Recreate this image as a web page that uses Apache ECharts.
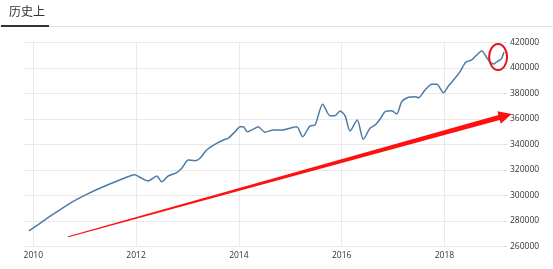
<!DOCTYPE html>
<html><head><meta charset="utf-8">
<script src="https://cdn.jsdelivr.net/npm/echarts@6/dist/echarts.min.js"></script>
<style>html,body{margin:0;padding:0;background:#fff;}#c{width:553px;height:269px;}</style>
</head><body><div id="c"></div>
<script>
// ---- data ----
const tabTitle = '历史上';
const dates = [
 '2009-12-01','2010-02-18','2010-05-22','2010-09-18','2011-01-15','2011-05-12','2011-09-08','2011-11-18','2011-12-24',
 '2012-01-28','2012-03-27','2012-05-27','2012-07-01','2012-08-17','2012-10-16','2012-11-21',
 '2013-01-07','2013-02-24','2013-03-31','2013-05-17','2013-07-27','2013-09-25','2013-10-18','2013-12-05',
 '2014-01-09','2014-02-02','2014-03-01','2014-04-25','2014-05-18','2014-07-05','2014-09-02','2014-11-01',
 '2015-02-16','2015-03-30','2015-05-21','2015-06-26','2015-08-19','2015-10-10','2015-11-14','2015-12-20',
 '2016-01-25','2016-03-01','2016-04-21','2016-06-03','2016-07-21','2016-08-26','2016-10-01','2016-11-06','2016-12-23',
 '2017-01-27','2017-03-04','2017-04-20','2017-06-07','2017-06-30','2017-08-16','2017-10-03','2017-11-08','2017-12-25',
 '2018-01-29','2018-03-17','2018-04-22','2018-06-01','2018-07-14','2018-08-11','2018-09-23','2018-11-09','2018-12-14',
 '2019-01-19','2019-02-07','2019-02-28'
];
const values = [
 272200,278200,285300,293900,300900,306900,312200,315300,316300,
 314300,311400,315300,310800,315300,317900,321300,
 327800,327300,329200,335700,340900,344100,344900,350000,
 354000,354000,350000,352700,354000,349600,351400,351400,
 354000,346100,354500,355300,371500,362600,362600,366300,
 362600,350600,359200,344100,352700,355300,360000,365700,366500,
 363900,373600,377000,377500,376700,382700,387200,387200,380600,
 385900,391900,397100,404500,406300,409400,413300,406300,403100,
 405700,406700,412600
];
const xTickYears = [2010, 2012, 2014, 2016, 2018];
const xMin = '2009-10-27', xMax = '2019-02-28';
const yMin = 260000, yMax = 420000, yStep = 20000;
// annotation anchors (data space)
const arrowTail = ['2010-09-06', 267700];
const arrowTip = ['2019-04-23', 363900];
const circleCenter = ['2019-01-17', 408600];

// ---- helpers: date string -> decimal year ----
const t = s => {
  const [y, m, d] = s.split('-').map(Number);
  const start = Date.UTC(y, 0, 1), end = Date.UTC(y + 1, 0, 1);
  return y + (Date.UTC(y, m - 1, d) - start) / (end - start);
};
const FONT = 'Open Sans';
const GRID_COLOR = '#e9e9e9';

const chart = echarts.init(document.getElementById('c'), null, {renderer: 'canvas'});
chart.setOption({
  animation: false,
  grid: {left: 24, right: 49, top: 42.5, bottom: 22.5, containLabel: false},
  xAxis: {
    type: 'value', min: t(xMin), max: t(xMax),
    axisLine: {show: false},
    axisTick: {show: false, customValues: xTickYears},
    axisLabel: {customValues: xTickYears, formatter: v => String(Math.round(v)),
      color: '#333', fontSize: 8.5, fontFamily: FONT, margin: 5},
    splitLine: {show: true, lineStyle: {color: GRID_COLOR, width: 1}}
  },
  yAxis: {
    type: 'value', position: 'right', min: yMin, max: yMax, interval: yStep,
    axisLine: {show: false},
    axisTick: {show: true, length: 3, lineStyle: {color: '#d8d8d8'}},
    axisLabel: {formatter: v => String(v), color: '#333', fontSize: 8.5, fontFamily: FONT, margin: 6},
    splitLine: {show: true, lineStyle: {color: GRID_COLOR, width: 1}}
  },
  series: [{
    type: 'line', showSymbol: false, smooth: 0.25,
    data: dates.map((d, i) => [t(d), values[i]]),
    lineStyle: {color: '#4d7aa6', width: 1.5}
  }]
});

// annotations
const px = p => chart.convertToPixel({xAxisIndex: 0, yAxisIndex: 0}, [t(p[0]), p[1]]);
const A = px(arrowTail), B = px(arrowTip), C = px(circleCenter);
const dx = B[0] - A[0], dy = B[1] - A[1], L = Math.hypot(dx, dy);
const ux = dx / L, uy = dy / L, nx = -uy, ny = ux;
const headLen = 13, headHalf = 6.5, tailHalf = 0.5, shaftHalf = 2.6;
const H = [B[0] - ux * headLen, B[1] - uy * headLen];
const arrowPts = [
  [A[0] + nx * tailHalf, A[1] + ny * tailHalf],
  [H[0] + nx * shaftHalf, H[1] + ny * shaftHalf],
  [H[0] + nx * headHalf, H[1] + ny * headHalf],
  B,
  [H[0] - nx * headHalf, H[1] - ny * headHalf],
  [H[0] - nx * shaftHalf, H[1] - ny * shaftHalf],
  [A[0] - nx * tailHalf, A[1] - ny * tailHalf]
];

chart.setOption({
  graphic: [
    {type: 'text', left: 9, top: 5, style: {text: tabTitle, fill: '#333', font: '12px "Noto Sans CJK SC"'}},
    {type: 'rect', shape: {x: 0, y: 26, width: 553, height: 1}, style: {fill: '#e3e3e3'}},
    {type: 'rect', shape: {x: 1, y: 25, width: 48, height: 2}, style: {fill: '#333'}},
    {type: 'polygon', shape: {points: arrowPts}, style: {fill: '#ff1010'}, z: 10},
    {type: 'ellipse', shape: {cx: C[0], cy: C[1], rx: 9, ry: 13}, style: {fill: 'none', stroke: '#e3151b', lineWidth: 2}, z: 10}
  ]
});
</script></body></html>
